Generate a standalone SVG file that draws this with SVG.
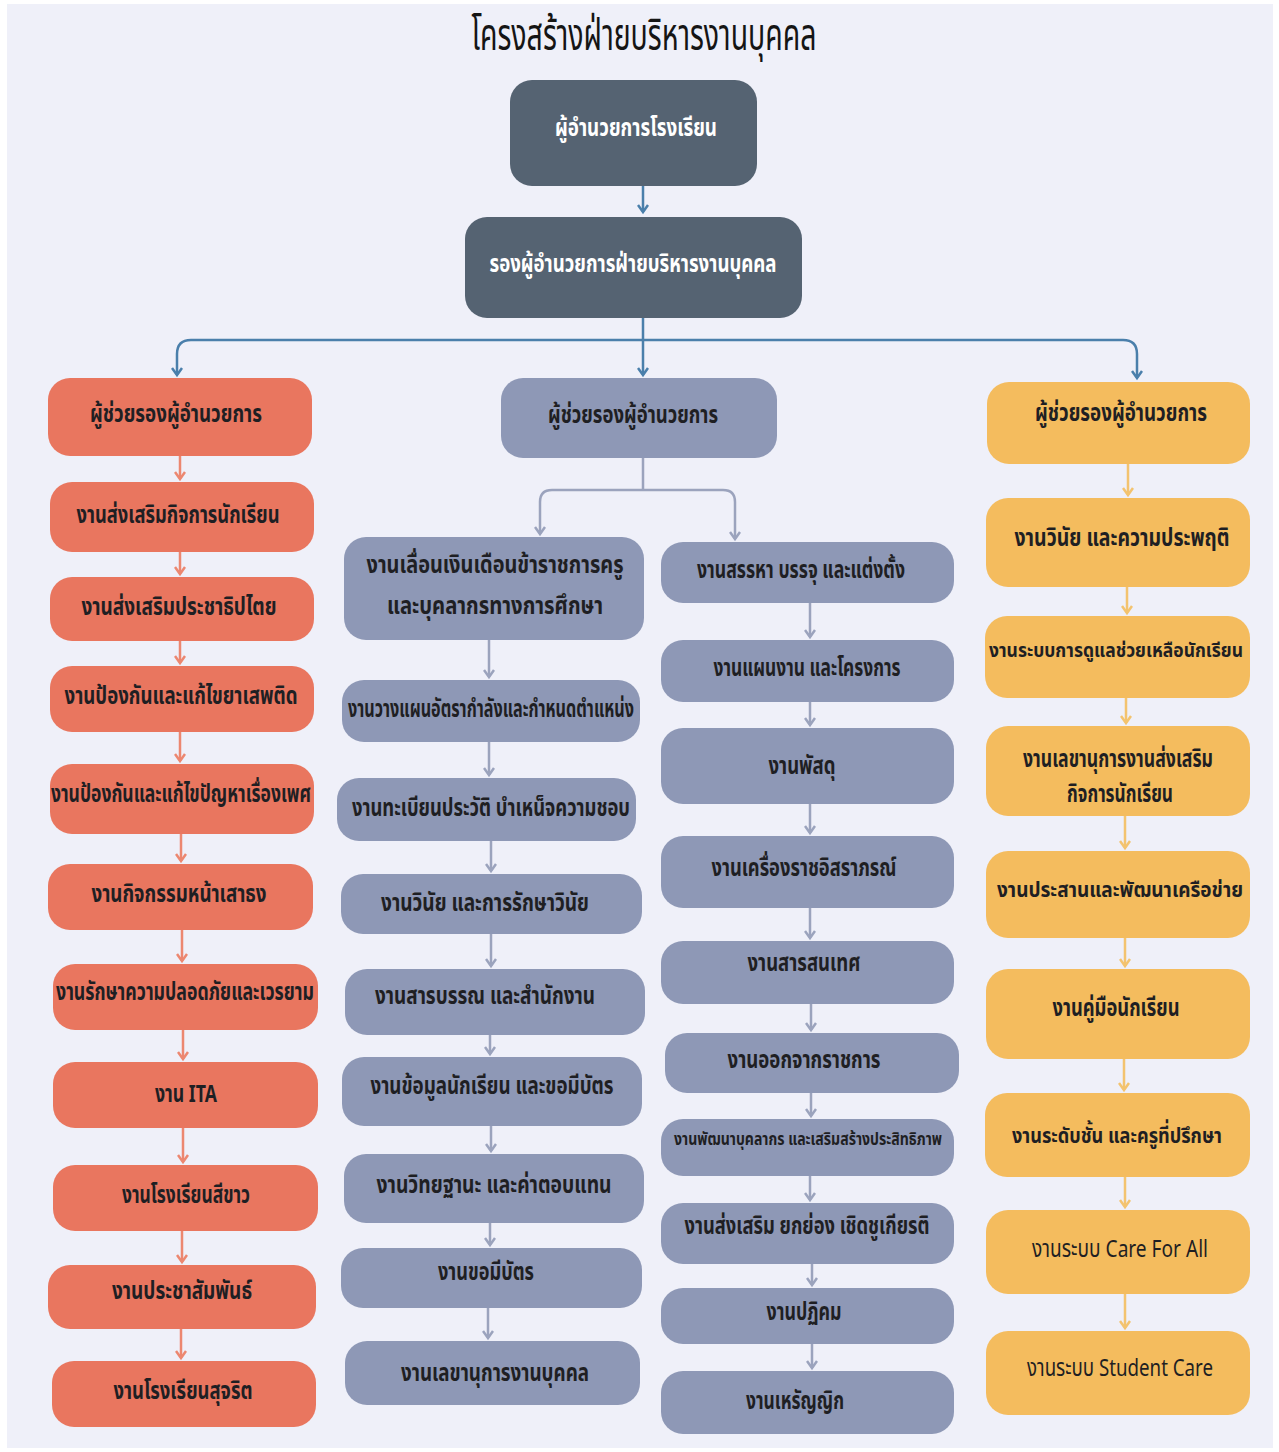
<svg xmlns="http://www.w3.org/2000/svg" width="1279" height="1452" viewBox="0 0 1279 1452">
<defs>
<style>
.bg{fill:#eff0f9}
.t{font-family:"Noto Sans Thai","Noto Sans Thai UI","Noto Sans","DejaVu Sans",sans-serif;font-weight:bold;font-size:24px;fill:#1f1f23;text-anchor:middle;dominant-baseline:central}
.tw{fill:#ffffff;font-size:25px}
.tn{font-weight:normal}
.ts{font-size:22px}
.title{font-family:"Noto Sans Thai","Noto Sans","DejaVu Sans",sans-serif;font-size:44px;fill:#151515;text-anchor:middle}
.dark{fill:#556372}
.coral{fill:#e9765f}
.grey{fill:#8e98b6}
.gold{fill:#f4bc5e}
.cb{fill:none;stroke:#4a7fab;stroke-width:2.5}
.cc{fill:none;stroke:#ec8770;stroke-width:2.5}
.cg{fill:none;stroke:#9ba3bd;stroke-width:2.5}
.cy{fill:none;stroke:#f3c36f;stroke-width:2.5}
</style>
<marker id="ab" markerWidth="11" markerHeight="12" refX="8" refY="6" orient="auto" markerUnits="userSpaceOnUse" viewBox="0 0 11 12"><path d="M1,1 L8,6 L1,11" fill="none" stroke="#4a7fab" stroke-width="2.5"/></marker>
<marker id="ac" markerWidth="11" markerHeight="12" refX="8" refY="6" orient="auto" markerUnits="userSpaceOnUse" viewBox="0 0 11 12"><path d="M1,1 L8,6 L1,11" fill="none" stroke="#ec8770" stroke-width="2.5"/></marker>
<marker id="ag" markerWidth="11" markerHeight="12" refX="8" refY="6" orient="auto" markerUnits="userSpaceOnUse" viewBox="0 0 11 12"><path d="M1,1 L8,6 L1,11" fill="none" stroke="#9ba3bd" stroke-width="2.5"/></marker>
<marker id="ay" markerWidth="11" markerHeight="12" refX="8" refY="6" orient="auto" markerUnits="userSpaceOnUse" viewBox="0 0 11 12"><path d="M1,1 L8,6 L1,11" fill="none" stroke="#f3c36f" stroke-width="2.5"/></marker>
</defs>
<rect width="1279" height="1452" fill="#ffffff"/>
<rect class="bg" x="7" y="4" width="1266" height="1444"/>
<text class="title" x="644" y="50" textLength="345" lengthAdjust="spacingAndGlyphs">โครงสร้างฝ่ายบริหารงานบุคคล</text>

<g id="connectors">
<path class="cb" d="M643,186 V212" marker-end="url(#ab)"/>
<path class="cb" d="M643,318 V340"/>
<path class="cb" d="M643,340 H191 Q177,340 177,354 V375" marker-end="url(#ab)"/>
<path class="cb" d="M643,340 H1123 Q1137,340 1137,354 V378" marker-end="url(#ab)"/>
<path class="cb" d="M643,340 V375" marker-end="url(#ab)"/>
<path class="cc" d="M180,456 V479" marker-end="url(#ac)"/>
<path class="cc" d="M180,552 V574" marker-end="url(#ac)"/>
<path class="cc" d="M180,641 V663" marker-end="url(#ac)"/>
<path class="cc" d="M180,732 V761" marker-end="url(#ac)"/>
<path class="cc" d="M181,834 V861" marker-end="url(#ac)"/>
<path class="cc" d="M182,930 V961" marker-end="url(#ac)"/>
<path class="cc" d="M183,1030 V1059" marker-end="url(#ac)"/>
<path class="cc" d="M183,1128 V1162" marker-end="url(#ac)"/>
<path class="cc" d="M182,1231 V1262" marker-end="url(#ac)"/>
<path class="cc" d="M181,1329 V1358" marker-end="url(#ac)"/>
<path class="cg" d="M643,458 V490"/>
<path class="cg" d="M643,490 H552 Q540,490 540,502 V534" marker-end="url(#ag)"/>
<path class="cg" d="M643,490 H723 Q735,490 735,502 V539" marker-end="url(#ag)"/>
<path class="cg" d="M489,640 V677" marker-end="url(#ag)"/>
<path class="cg" d="M489,742 V775" marker-end="url(#ag)"/>
<path class="cg" d="M491,841 V871" marker-end="url(#ag)"/>
<path class="cg" d="M491,934 V966" marker-end="url(#ag)"/>
<path class="cg" d="M490,1035 V1054" marker-end="url(#ag)"/>
<path class="cg" d="M491,1126 V1151" marker-end="url(#ag)"/>
<path class="cg" d="M490,1223 V1245" marker-end="url(#ag)"/>
<path class="cg" d="M488,1308 V1338" marker-end="url(#ag)"/>
<path class="cg" d="M810,603 V637" marker-end="url(#ag)"/>
<path class="cg" d="M810,702 V725" marker-end="url(#ag)"/>
<path class="cg" d="M810,804 V833" marker-end="url(#ag)"/>
<path class="cg" d="M810,908 V938" marker-end="url(#ag)"/>
<path class="cg" d="M811,1004 V1030" marker-end="url(#ag)"/>
<path class="cg" d="M811,1093 V1116" marker-end="url(#ag)"/>
<path class="cg" d="M810,1176 V1200" marker-end="url(#ag)"/>
<path class="cg" d="M812,1264 V1285" marker-end="url(#ag)"/>
<path class="cg" d="M812,1344 V1368" marker-end="url(#ag)"/>
<path class="cy" d="M1128,464 V495" marker-end="url(#ay)"/>
<path class="cy" d="M1127,587 V613" marker-end="url(#ay)"/>
<path class="cy" d="M1126,698 V723" marker-end="url(#ay)"/>
<path class="cy" d="M1125,816 V848" marker-end="url(#ay)"/>
<path class="cy" d="M1125,938 V966" marker-end="url(#ay)"/>
<path class="cy" d="M1124,1059 V1090" marker-end="url(#ay)"/>
<path class="cy" d="M1125,1177 V1207" marker-end="url(#ay)"/>
<path class="cy" d="M1125,1294 V1328" marker-end="url(#ay)"/>
</g>

<g id="n-director"><rect class="dark" x="510" y="80" width="247" height="106" rx="22"/><text class="t tw" x="636" y="128" textLength="162" lengthAdjust="spacingAndGlyphs">ผู้อำนวยการโรงเรียน</text></g>
<g id="n-deputy"><rect class="dark" x="465" y="217" width="337" height="101" rx="22"/><text class="t tw" x="633" y="264" textLength="287" lengthAdjust="spacingAndGlyphs">รองผู้อำนวยการฝ่ายบริหารงานบุคคล</text></g>

<g id="l0"><rect class="coral" x="48" y="378" width="264" height="78" rx="22"/><text class="t" x="176" y="415" textLength="172" lengthAdjust="spacingAndGlyphs">ผู้ช่วยรองผู้อำนวยการ</text></g>
<g id="l1"><rect class="coral" x="50" y="482" width="264" height="70" rx="22"/><text class="t" x="178" y="516" textLength="203" lengthAdjust="spacingAndGlyphs">งานส่งเสริมกิจการนักเรียน</text></g>
<g id="l2"><rect class="coral" x="50" y="577" width="264" height="64" rx="22"/><text class="t" x="179" y="608" textLength="195" lengthAdjust="spacingAndGlyphs">งานส่งเสริมประชาธิปไตย</text></g>
<g id="l3"><rect class="coral" x="50" y="666" width="264" height="66" rx="22"/><text class="t" x="181" y="697" textLength="233" lengthAdjust="spacingAndGlyphs">งานป้องกันและแก้ไขยาเสพติด</text></g>
<g id="l4"><rect class="coral" x="50" y="764" width="264" height="70" rx="22"/><text class="t" x="181" y="795" textLength="260" lengthAdjust="spacingAndGlyphs">งานป้องกันและแก้ไขปัญหาเรื่องเพศ</text></g>
<g id="l5"><rect class="coral" x="48" y="864" width="265" height="66" rx="22"/><text class="t" x="179" y="895" textLength="175" lengthAdjust="spacingAndGlyphs">งานกิจกรรมหน้าเสาธง</text></g>
<g id="l6"><rect class="coral" x="53" y="964" width="265" height="66" rx="22"/><text class="t" x="185" y="993" textLength="258" lengthAdjust="spacingAndGlyphs">งานรักษาความปลอดภัยและเวรยาม</text></g>
<g id="l7"><rect class="coral" x="53" y="1062" width="265" height="66" rx="22"/><text class="t" x="186" y="1095" textLength="62" lengthAdjust="spacingAndGlyphs">งาน ITA</text></g>
<g id="l8"><rect class="coral" x="53" y="1165" width="265" height="66" rx="22"/><text class="t" x="186" y="1196" textLength="128" lengthAdjust="spacingAndGlyphs">งานโรงเรียนสีขาว</text></g>
<g id="l9"><rect class="coral" x="48" y="1265" width="268" height="64" rx="22"/><text class="t" x="182" y="1292" textLength="140" lengthAdjust="spacingAndGlyphs">งานประชาสัมพันธ์</text></g>
<g id="l10"><rect class="coral" x="52" y="1361" width="264" height="66" rx="22"/><text class="t" x="183" y="1392" textLength="139" lengthAdjust="spacingAndGlyphs">งานโรงเรียนสุจริต</text></g>

<g id="m0"><rect class="grey" x="501" y="378" width="276" height="80" rx="22"/><text class="t" x="633" y="416" textLength="170" lengthAdjust="spacingAndGlyphs">ผู้ช่วยรองผู้อำนวยการ</text></g>

<g id="ml0"><rect class="grey" x="344" y="537" width="300" height="103" rx="22"/><text class="t" x="495" y="566" textLength="257" lengthAdjust="spacingAndGlyphs">งานเลื่อนเงินเดือนข้าราชการครู</text><text class="t" x="495" y="607" textLength="216" lengthAdjust="spacingAndGlyphs">และบุคลากรทางการศึกษา</text></g>
<g id="ml1"><rect class="grey" x="342" y="680" width="298" height="62" rx="22"/><text class="t" x="491" y="710" textLength="286" lengthAdjust="spacingAndGlyphs">งานวางแผนอัตรากำลังและกำหนดตำแหน่ง</text></g>
<g id="ml2"><rect class="grey" x="337" y="778" width="299" height="63" rx="22"/><text class="t" x="491" y="809" textLength="278" lengthAdjust="spacingAndGlyphs">งานทะเบียนประวัติ บำเหน็จความชอบ</text></g>
<g id="ml3"><rect class="grey" x="341" y="874" width="301" height="60" rx="22"/><text class="t" x="485" y="904" textLength="208" lengthAdjust="spacingAndGlyphs">งานวินัย และการรักษาวินัย</text></g>
<g id="ml4"><rect class="grey" x="345" y="969" width="300" height="66" rx="22"/><text class="t" x="485" y="997" textLength="220" lengthAdjust="spacingAndGlyphs">งานสารบรรณ และสำนักงาน</text></g>
<g id="ml5"><rect class="grey" x="342" y="1057" width="300" height="69" rx="22"/><text class="t" x="492" y="1087" textLength="243" lengthAdjust="spacingAndGlyphs">งานข้อมูลนักเรียน และขอมีบัตร</text></g>
<g id="ml6"><rect class="grey" x="344" y="1154" width="300" height="69" rx="22"/><text class="t" x="494" y="1186" textLength="235" lengthAdjust="spacingAndGlyphs">งานวิทยฐานะ และค่าตอบแทน</text></g>
<g id="ml7"><rect class="grey" x="341" y="1248" width="301" height="60" rx="22"/><text class="t" x="486" y="1273" textLength="96" lengthAdjust="spacingAndGlyphs">งานขอมีบัตร</text></g>
<g id="ml8"><rect class="grey" x="345" y="1341" width="295" height="64" rx="22"/><text class="t" x="495" y="1374" textLength="188" lengthAdjust="spacingAndGlyphs">งานเลขานุการงานบุคคล</text></g>

<g id="mr0"><rect class="grey" x="661" y="542" width="293" height="61" rx="22"/><text class="t" x="801" y="571" textLength="208" lengthAdjust="spacingAndGlyphs">งานสรรหา บรรจุ และแต่งตั้ง</text></g>
<g id="mr1"><rect class="grey" x="661" y="640" width="293" height="62" rx="22"/><text class="t" x="807" y="669" textLength="187" lengthAdjust="spacingAndGlyphs">งานแผนงาน และโครงการ</text></g>
<g id="mr2"><rect class="grey" x="661" y="728" width="293" height="76" rx="22"/><text class="t" x="802" y="767" textLength="67" lengthAdjust="spacingAndGlyphs">งานพัสดุ</text></g>
<g id="mr3"><rect class="grey" x="661" y="836" width="293" height="72" rx="22"/><text class="t" x="804" y="869" textLength="185" lengthAdjust="spacingAndGlyphs">งานเครื่องราชอิสราภรณ์</text></g>
<g id="mr4"><rect class="grey" x="661" y="941" width="293" height="63" rx="22"/><text class="t" x="804" y="964" textLength="113" lengthAdjust="spacingAndGlyphs">งานสารสนเทศ</text></g>
<g id="mr5"><rect class="grey" x="665" y="1033" width="294" height="60" rx="22"/><text class="t" x="804" y="1061" textLength="153" lengthAdjust="spacingAndGlyphs">งานออกจากราชการ</text></g>
<g id="mr6"><rect class="grey" x="661" y="1119" width="293" height="57" rx="22"/><text class="t" x="808" y="1140" style="font-size:17px" textLength="268" lengthAdjust="spacingAndGlyphs">งานพัฒนาบุคลากร และเสริมสร้างประสิทธิภาพ</text></g>
<g id="mr7"><rect class="grey" x="661" y="1203" width="293" height="61" rx="22"/><text class="t" x="807" y="1227" textLength="245" lengthAdjust="spacingAndGlyphs">งานส่งเสริม ยกย่อง เชิดชูเกียรติ</text></g>
<g id="mr8"><rect class="grey" x="661" y="1288" width="293" height="56" rx="22"/><text class="t" x="804" y="1313" textLength="75" lengthAdjust="spacingAndGlyphs">งานปฏิคม</text></g>
<g id="mr9"><rect class="grey" x="661" y="1371" width="293" height="63" rx="22"/><text class="t" x="795" y="1402" textLength="98" lengthAdjust="spacingAndGlyphs">งานเหรัญญิก</text></g>

<g id="r0"><rect class="gold" x="987" y="382" width="263" height="82" rx="22"/><text class="t" x="1121" y="414" textLength="172" lengthAdjust="spacingAndGlyphs">ผู้ช่วยรองผู้อำนวยการ</text></g>
<g id="r1"><rect class="gold" x="986" y="498" width="264" height="89" rx="22"/><text class="t" x="1122" y="539" textLength="215" lengthAdjust="spacingAndGlyphs">งานวินัย และความประพฤติ</text></g>
<g id="r2"><rect class="gold" x="985" y="616" width="265" height="82" rx="22"/><text class="t" x="1116" y="651" style="font-size:20px" textLength="254" lengthAdjust="spacingAndGlyphs">งานระบบการดูแลช่วยเหลือนักเรียน</text></g>
<g id="r3"><rect class="gold" x="986" y="726" width="264" height="90" rx="22"/><text class="t" x="1118" y="760" textLength="190" lengthAdjust="spacingAndGlyphs">งานเลขานุการงานส่งเสริม</text><text class="t" x="1120" y="795" textLength="106" lengthAdjust="spacingAndGlyphs">กิจการนักเรียน</text></g>
<g id="r4"><rect class="gold" x="986" y="851" width="264" height="87" rx="22"/><text class="t ts" x="1120" y="890" textLength="246" lengthAdjust="spacingAndGlyphs">งานประสานและพัฒนาเครือข่าย</text></g>
<g id="r5"><rect class="gold" x="986" y="969" width="264" height="90" rx="22"/><text class="t" x="1116" y="1009" textLength="127" lengthAdjust="spacingAndGlyphs">งานคู่มือนักเรียน</text></g>
<g id="r6"><rect class="gold" x="985" y="1093" width="265" height="84" rx="22"/><text class="t ts" x="1117" y="1136" textLength="210" lengthAdjust="spacingAndGlyphs">งานระดับชั้น และครูที่ปรึกษา</text></g>
<g id="r7"><rect class="gold" x="986" y="1210" width="264" height="84" rx="22"/><text class="t tn" x="1120" y="1250" textLength="176" lengthAdjust="spacingAndGlyphs">งานระบบ Care For All</text></g>
<g id="r8"><rect class="gold" x="986" y="1331" width="264" height="84" rx="22"/><text class="t tn" x="1120" y="1369" textLength="186" lengthAdjust="spacingAndGlyphs">งานระบบ Student Care</text></g>
</svg>
